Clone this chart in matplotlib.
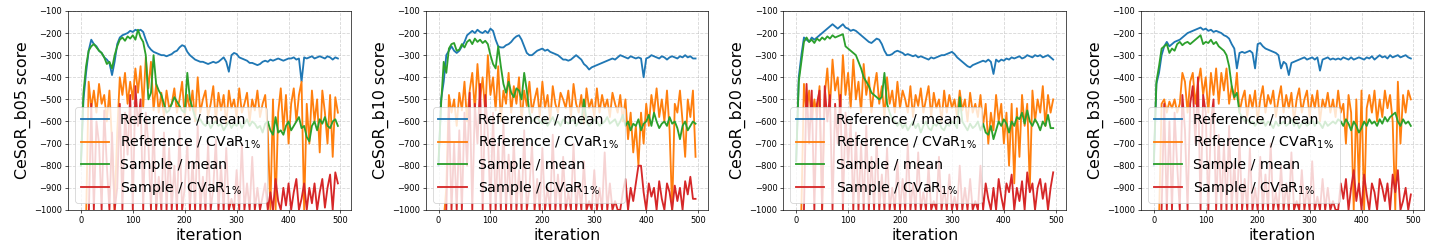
import numpy as np
import matplotlib
matplotlib.use("Agg")
import matplotlib.pyplot as plt

# iterations sampled every 5 steps
iteration = list(range(0, 500, 5))

datasets = ["b05", "b10", "b20", "b30"]
series_names = ["Reference / mean", r"Reference / CVaR$_{1\%}$",
                "Sample / mean", r"Sample / CVaR$_{1\%}$"]

# ---- b05 ----
ref_mean_b05 = [-800, -500, -380, -280, -230, -250, -260, -280, -290, -310,
                -320, -335, -390, -330, -250, -220, -210, -205, -200, -190,
                -195, -185, -190, -185, -195, -230, -260, -275, -285, -290,
                -295, -300, -300, -305, -300, -295, -285, -280, -265, -255,
                -260, -285, -300, -310, -320, -325, -330, -330, -335, -340,
                -335, -330, -335, -330, -320, -310, -330, -375, -300, -290,
                -295, -310, -315, -320, -325, -335, -335, -340, -345, -340,
                -330, -325, -330, -320, -325, -320, -315, -320, -325, -320,
                -315, -315, -310, -320, -315, -420, -310, -315, -310, -305,
                -315, -310, -305, -310, -315, -305, -310, -320, -310, -315]
ref_cvar_b05 = [-1050, -1050, -1050, -420, -540, -460, -560, -430, -520, -480,
                -600, -460, -700, -1000, -650, -400, -480, -380, -520, -420,
                -500, -360, -470, -350, -540, -310, -450, -330, -550, -430,
                -560, -470, -580, -460, -540, -520, -450, -560, -500, -420,
                -580, -480, -550, -460, -600, -400, -560, -500, -460, -580,
                -520, -440, -600, -470, -550, -480, -620, -460, -540, -500,
                -580, -450, -560, -520, -470, -600, -500, -550, -460, -580,
                -520, -480, -650, -1000, -500, -1000, -560, -450, -640, -480,
                -700, -520, -450, -600, -480, -420, -1000, -520, -700, -460,
                -600, -500, -740, -460, -560, -700, -480, -760, -490, -560]
smp_mean_b05 = [-800, -470, -350, -280, -260, -250, -265, -280, -290, -310,
                -340, -330, -360, -300, -260, -230, -220, -235, -215, -225,
                -210, -230, -185, -220, -240, -300, -500, -470, -300, -430,
                -460, -480, -520, -560, -550, -520, -490, -510, -530, -550,
                -560, -380, -500, -540, -580, -600, -590, -610, -620, -600,
                -630, -610, -600, -620, -610, -640, -620, -600, -630, -610,
                -620, -600, -630, -610, -590, -620, -600, -610, -630, -620,
                -650, -610, -600, -640, -660, -580, -650, -640, -660, -620,
                -600, -640, -620, -600, -580, -630, -620, -670, -690, -620,
                -600, -640, -590, -610, -580, -620, -630, -600, -590, -620]
smp_cvar_b05 = [-1050, -1050, -1050, -1050, -520, -1000, -600, -700, -1000, -550,
                -800, -1000, -650, -1000, -900, -520, -1000, -560, -750, -480,
                -1000, -440, -620, -500, -1000, -560, -700, -1000, -600, -1000,
                -850, -1000, -650, -1000, -720, -1000, -800, -1000, -640, -1000,
                -900, -700, -1000, -780, -1000, -620, -1000, -850, -1000, -700,
                -1000, -900, -680, -1000, -800, -1000, -720, -1000, -950, -1000,
                -820, -1000, -700, -1000, -880, -1000, -760, -1000, -900, -1000,
                -940, -880, -1000, -920, -1000, -860, -960, -1000, -900, -980,
                -880, -1000, -920, -860, -1000, -950, -880, -1000, -900, -970,
                -880, -1000, -920, -860, -990, -900, -840, -1000, -830, -880]

# ---- b10 ----
ref_mean_b10 = [-800, -500, -420, -300, -280, -260, -280, -290, -280, -260,
                -240, -210, -200, -190, -200, -185, -195, -200, -190, -200,
                -180, -190, -230, -260, -265, -265, -255, -250, -240, -225,
                -215, -210, -230, -260, -290, -300, -300, -290, -280, -275,
                -270, -280, -275, -285, -290, -295, -300, -310, -320, -320,
                -325, -320, -310, -300, -310, -320, -340, -350, -365, -355,
                -350, -345, -340, -335, -330, -325, -320, -315, -320, -310,
                -300, -305, -310, -315, -305, -310, -315, -310, -315, -400,
                -315, -310, -300, -305, -310, -315, -305, -310, -320, -310,
                -305, -310, -315, -305, -310, -300, -310, -305, -315, -315]
ref_cvar_b10 = [-1050, -1050, -1050, -900, -480, -560, -500, -620, -470, -550,
                -420, -600, -460, -380, -550, -340, -500, -400, -560, -300,
                -480, -400, -550, -350, -600, -460, -520, -380, -560, -440,
                -520, -400, -600, -460, -530, -420, -560, -500, -450, -580,
                -420, -540, -480, -600, -440, -520, -560, -470, -500, -540,
                -460, -580, -430, -520, -560, -480, -610, -450, -540, -500,
                -580, -450, -560, -480, -540, -500, -580, -470, -520, -560,
                -480, -600, -500, -680, -560, -740, -620, -800, -560, -700,
                -520, -620, -480, -560, -450, -580, -500, -600, -460, -640,
                -1000, -520, -560, -460, -600, -760, -500, -580, -460, -760]
smp_mean_b10 = [-780, -520, -330, -380, -270, -250, -245, -280, -275, -250,
                -265, -240, -230, -250, -225, -240, -230, -245, -235, -250,
                -300, -340, -360, -260, -350, -430, -470, -420, -470, -490,
                -450, -460, -500, -380, -460, -560, -600, -590, -580, -600,
                -610, -590, -620, -600, -580, -610, -600, -620, -590, -600,
                -610, -600, -590, -620, -600, -610, -500, -600, -620, -610,
                -590, -600, -620, -610, -600, -580, -610, -600, -590, -620,
                -600, -570, -620, -600, -640, -610, -620, -590, -640, -610,
                -600, -570, -620, -560, -600, -630, -610, -600, -620, -580,
                -610, -600, -630, -680, -620, -600, -640, -620, -600, -610]
smp_cvar_b10 = [-1050, -1050, -1050, -1000, -540, -1000, -700, -1000, -640, -1000,
                -560, -800, -470, -1000, -520, -700, -430, -1000, -480, -650,
                -1000, -560, -1000, -700, -1000, -600, -1000, -750, -1000, -680,
                -1000, -820, -1000, -640, -1000, -900, -700, -1000, -860, -1000,
                -720, -1000, -900, -1000, -660, -1000, -840, -1000, -760, -1000,
                -920, -1000, -700, -1000, -880, -1000, -780, -1000, -960, -1000,
                -820, -1000, -900, -1000, -740, -1000, -880, -1000, -960, -1000,
                -1000, -920, -860, -1000, -900, -960, -880, -800, -800, -920,
                -1000, -880, -940, -900, -1000, -870, -950, -1000, -880, -920,
                -1000, -890, -960, -900, -1000, -870, -930, -850, -950, -950]

# ---- b20 ----
ref_mean_b20 = [-780, -400, -300, -220, -230, -240, -220, -230, -220, -210,
                -200, -190, -180, -170, -160, -170, -180, -170, -160, -175,
                -180, -190, -185, -190, -200, -210, -220, -230, -240, -245,
                -235, -225, -230, -250, -280, -300, -300, -295, -285, -280,
                -285, -290, -300, -295, -300, -305, -300, -310, -305, -310,
                -315, -320, -310, -315, -310, -305, -300, -300, -295, -290,
                -285, -295, -310, -320, -330, -340, -350, -355, -345, -340,
                -335, -330, -325, -330, -320, -330, -385, -320, -330, -320,
                -325, -315, -320, -310, -315, -310, -305, -315, -310, -300,
                -305, -310, -300, -305, -300, -310, -305, -300, -310, -320]
ref_cvar_b20 = [-1050, -1050, -1000, -430, -560, -460, -600, -500, -580, -440,
                -1000, -480, -360, -540, -320, -460, -400, -560, -300, -480,
                -380, -540, -320, -500, -420, -560, -340, -480, -400, -560,
                -450, -380, -520, -440, -580, -400, -520, -460, -560, -420,
                -540, -460, -500, -560, -440, -580, -480, -530, -450, -560,
                -500, -440, -580, -470, -540, -500, -600, -460, -560, -480,
                -540, -500, -580, -460, -550, -500, -600, -470, -560, -520,
                -580, -480, -620, -520, -700, -560, -640, -480, -600, -520,
                -700, -560, -800, -520, -880, -540, -760, -480, -620, -520,
                -900, -460, -600, -500, -560, -440, -620, -480, -560, -500]
smp_mean_b20 = [-780, -420, -330, -240, -220, -240, -230, -245, -225, -235,
                -220, -230, -215, -225, -210, -220, -215, -210, -205, -260,
                -270, -280, -290, -300, -330, -360, -400, -420, -440, -470,
                -480, -490, -500, -490, -380, -520, -560, -590, -600, -620,
                -600, -630, -610, -640, -620, -600, -630, -610, -650, -620,
                -600, -630, -640, -610, -620, -600, -630, -640, -610, -620,
                -600, -610, -630, -490, -600, -620, -640, -610, -630, -620,
                -600, -640, -610, -650, -660, -620, -680, -640, -600, -620,
                -590, -610, -650, -600, -620, -580, -590, -560, -610, -550,
                -600, -620, -590, -610, -640, -600, -620, -570, -630, -630]
smp_cvar_b20 = [-1050, -1050, -1050, -1000, -430, -700, -460, -1000, -520, -460,
                -1000, -440, -600, -480, -1000, -520, -700, -480, -1000, -560,
                -800, -600, -1000, -650, -1000, -700, -1000, -620, -1000, -760,
                -1000, -680, -1000, -840, -1000, -720, -1000, -900, -1000, -780,
                -1000, -860, -1000, -700, -1000, -880, -1000, -740, -1000, -920,
                -1000, -800, -1000, -960, -1000, -760, -1000, -900, -1000, -840,
                -1000, -940, -1000, -800, -1000, -900, -1000, -860, -1000, -960,
                -1000, -800, -1000, -880, -950, -1000, -900, -1000, -860, -940,
                -1000, -880, -920, -840, -1000, -900, -960, -870, -1000, -830,
                -920, -880, -1000, -900, -860, -950, -880, -1000, -900, -830]

# ---- b30 ----
ref_mean_b30 = [-800, -430, -380, -300, -260, -240, -260, -250, -240, -235,
                -230, -220, -210, -200, -195, -190, -185, -180, -175, -185,
                -180, -190, -185, -195, -190, -195, -200, -210, -215, -225,
                -250, -270, -360, -290, -285, -290, -285, -280, -290, -360,
                -250, -245, -260, -270, -275, -280, -285, -290, -300, -360,
                -330, -340, -390, -335, -330, -325, -320, -315, -310, -320,
                -315, -310, -320, -310, -370, -320, -315, -310, -320, -315,
                -320, -315, -320, -310, -315, -320, -310, -320, -315, -310,
                -315, -320, -310, -315, -305, -320, -310, -300, -310, -305,
                -315, -300, -310, -305, -300, -310, -305, -300, -310, -315]
ref_cvar_b30 = [-1050, -1050, -1050, -520, -500, -560, -510, -540, -500, -560,
                -520, -380, -420, -560, -420, -380, -520, -430, -360, -480,
                -400, -560, -380, -480, -360, -520, -380, -460, -360, -520,
                -440, -500, -380, -560, -500, -460, -580, -480, -540, -460,
                -600, -500, -440, -560, -480, -520, -460, -580, -500, -440,
                -560, -480, -540, -470, -600, -500, -450, -560, -500, -460,
                -580, -480, -540, -460, -600, -500, -540, -470, -560, -500,
                -580, -460, -560, -520, -700, -480, -560, -1000, -500, -900,
                -460, -1000, -540, -480, -560, -460, -600, -500, -580, -460,
                -540, -480, -600, -1000, -420, -700, -480, -560, -460, -500]
smp_mean_b30 = [-780, -420, -350, -270, -260, -250, -290, -270, -280, -250,
                -240, -255, -245, -240, -250, -240, -230, -220, -210, -250,
                -240, -245, -230, -250, -240, -260, -270, -280, -300, -350,
                -440, -490, -470, -560, -580, -600, -590, -610, -600, -620,
                -600, -610, -590, -620, -600, -610, -630, -600, -620, -610,
                -600, -620, -610, -590, -620, -600, -630, -610, -600, -620,
                -610, -590, -620, -600, -610, -630, -600, -620, -610, -600,
                -610, -590, -600, -620, -590, -610, -640, -600, -620, -650,
                -630, -600, -620, -590, -610, -600, -620, -590, -610, -580,
                -600, -580, -570, -560, -600, -620, -590, -610, -600, -620]
smp_cvar_b30 = [-1050, -1050, -1050, -1000, -520, -1000, -600, -1000, -560, -800,
                -1000, -480, -640, -1000, -520, -440, -700, -400, -1000, -480,
                -560, -1000, -600, -500, -1000, -660, -1000, -700, -1000, -620,
                -1000, -780, -1000, -680, -1000, -860, -1000, -720, -1000, -900,
                -1000, -760, -1000, -840, -1000, -700, -1000, -920, -1000, -800,
                -1000, -880, -1000, -740, -1000, -960, -1000, -820, -1000, -900,
                -1000, -780, -1000, -940, -1000, -860, -1000, -900, -1000, -960,
                -1000, -1000, -880, -950, -860, -1000, -900, -820, -960, -880,
                -1000, -840, -930, -1000, -880, -920, -1000, -860, -900, -960,
                -880, -1000, -840, -920, -820, -1000, -960, -900, -1000, -930]

all_series = {
    "b05": [ref_mean_b05, ref_cvar_b05, smp_mean_b05, smp_cvar_b05],
    "b10": [ref_mean_b10, ref_cvar_b10, smp_mean_b10, smp_cvar_b10],
    "b20": [ref_mean_b20, ref_cvar_b20, smp_mean_b20, smp_cvar_b20],
    "b30": [ref_mean_b30, ref_cvar_b30, smp_mean_b30, smp_cvar_b30],
}
colors = ["tab:blue", "tab:orange", "tab:green", "tab:red"]

dpi = 60
fig, axs = plt.subplots(1, 4, figsize=(1432 / dpi, 249 / dpi), dpi=dpi)
plt.subplots_adjust(left=0.0475, right=0.9942, bottom=0.157, top=0.956, wspace=0.265)

for ax, name in zip(axs, datasets):
    for values, label, c in zip(all_series[name], series_names, colors):
        ax.plot(iteration, values, color=c, label=label, linewidth=2.2)
    ax.set_ylim(-1000, -100)
    ax.set_yticks(np.arange(-1000, -99, 100))
    ax.set_xticks([0, 100, 200, 300, 400, 500])
    ax.grid(linestyle="--", linewidth=1.0, alpha=0.5)
    ax.set_xlabel("iteration", fontsize=19)
    ax.set_ylabel("CeSoR_%s score" % name, fontsize=19)
    ax.tick_params(labelsize=10)
    ax.legend(loc="lower left", fontsize=17)

plt.savefig("out.png", dpi=dpi)
